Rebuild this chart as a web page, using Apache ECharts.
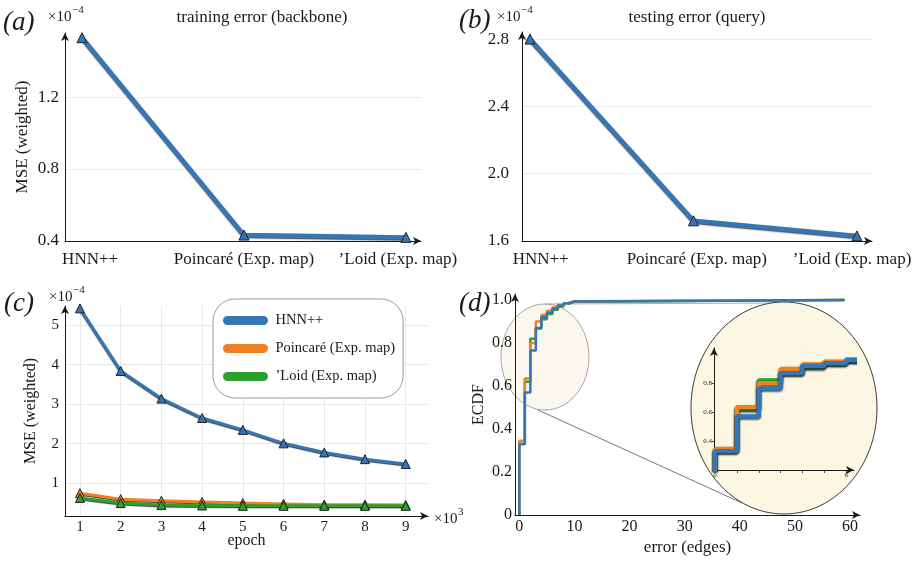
<!DOCTYPE html>
<html>
<head>
<meta charset="utf-8">
<script src="https://cdn.jsdelivr.net/npm/echarts@6.0.0/dist/echarts.min.js"></script>
<style>
  html, body { margin: 0; padding: 0; background: #fff; }
  #fig { width: 919px; height: 562px; }
</style>
</head>
<body>
<div id="fig"></div>
<script>
var FONT = 'Liberation Serif';
var INK = '#1a1a1a';
var BLUE = '#3676b5', ORANGE = '#f28020', GREEN = '#2ca02c';

// (a) / (b): final errors per method
var methods = ['HNN++', 'Poincaré (Exp. map)', '\u2019Loid (Exp. map)'];
var methodPos = [0, 1, 2];
var trainError = [1.53, 0.433, 0.42];
var testError = [2.80, 1.72, 1.63];
// where the category names sit (slightly pulled inwards, as in the figure)
var labelPosA = [0.05, 1.0, 1.95];
var labelPosB = [0.065, 1.02, 1.97];

// (c): error vs epoch (x10^3)
var epochs = [1, 2, 3, 4, 5, 6, 7, 8, 9];
var hnnEpoch = [5.42, 3.84, 3.14, 2.65, 2.35, 2.01, 1.78, 1.61, 1.49];
var poincareEpoch = [0.75, 0.60, 0.56, 0.53, 0.50, 0.48, 0.46, 0.46, 0.45];
var loidEpoch = [0.63, 0.50, 0.45, 0.44, 0.43, 0.43, 0.43, 0.43, 0.43];

// (d): ECDF of error in edges
var edgeError = [0, 0, 1, 2, 3, 4, 5, 6, 7, 8, 9, 10, 59];
var ecdfHnn = [0, 0.33, 0.57, 0.765, 0.87, 0.92, 0.94, 0.96, 0.975, 0.985, 0.993, 1.0, 1.0];
var ecdfPoincare = [0, 0.345, 0.635, 0.80, 0.90, 0.93, 0.95, 0.965, 0.978, 0.987, 0.994, 1.0, 1.0];
var ecdfLoid = [0, 0.33, 0.62, 0.82, 0.868, 0.91, 0.935, 0.955, 0.97, 0.983, 0.992, 1.0, 1.0];

// tick values
var yTicksA = [0.4, 0.8, 1.2];
var yTicksB = [1.6, 2.0, 2.4, 2.8];
var yTicksC = [1, 2, 3, 4, 5];
var xTicksD = [0, 10, 20, 30, 40, 50, 60];
var yTicksD = [0, 0.2, 0.4, 0.6, 0.8, 1.0];
var xTicksInset = [0, 1, 2, 3, 4, 5, 6];
var xLabelsInset = [0, 6];
var yTicksInset = [0.4, 0.6, 0.8];

function axisLine() {
  return { show: true, onZero: false, symbol: ['none', 'arrow'], symbolSize: [6, 8],
           lineStyle: { color: INK, width: 1 } };
}

function valueAxis(o) {
  return {
    type: 'value', gridIndex: o.grid, min: o.min, max: o.max,
    axisLine: axisLine(),
    axisTick: { show: !!o.tickLen, customValues: o.ticks, length: o.tickLen || 0,
                lineStyle: { color: INK, width: 0.8 } },
    axisLabel: { customValues: o.labels || o.ticks, formatter: o.fmt, margin: o.margin,
                 fontFamily: FONT, fontSize: o.fontSize, color: INK },
    splitLine: { show: !!o.split, lineStyle: { color: o.split || '#eee', width: 1 } },
    name: o.name || '', nameLocation: 'middle', nameGap: o.nameGap, nameMoveOverlap: false,
    nameTextStyle: { fontFamily: FONT, fontSize: o.nameSize, color: INK }
  };
}

function fixed1(v) { return v.toFixed(1); }
function ecdfFmt(v) { return v === 0 ? '0' : v.toFixed(1); }
function methodName(v) { return methods[Math.round(v)]; }

function plotLine(name, idx, xs, ys, color, o) {
  var ls = { color: color, width: o.width };
  if (o.blur) {
    ls.shadowColor = 'rgba(0,0,0,0.75)';
    ls.shadowBlur = o.blur;
    ls.shadowOffsetY = 1;
  }
  return {
    type: 'line', name: name, xAxisIndex: idx, yAxisIndex: idx,
    data: xs.map(function (x, i) { return [x, ys[i]]; }),
    step: o.step || false,
    symbol: o.symbol || 'none', symbolSize: o.symbolSize || 0, showSymbol: !!o.symbol,
    lineStyle: ls,
    itemStyle: { color: color, borderColor: '#222', borderWidth: 1 },
    z: o.z || 2, silent: true, animation: false
  };
}

function label(text, x, y, size, extra) {
  var st = { text: text, fontFamily: FONT, fontSize: size, fill: INK,
             align: 'left', verticalAlign: 'middle' };
  for (var k in extra) st[k] = extra[k];
  return { type: 'text', x: x, y: y, z: 10, silent: true, style: st };
}

function multiplier(x, y, exp) {
  return [label('×10', x, y, 15), label(exp, x + 24, y - 7, 11)];
}

var grids = [
  { left: 65, top: 33, width: 356, height: 208 },
  { left: 522, top: 32, width: 350, height: 209 },
  { left: 65, top: 306, width: 363, height: 210 },
  { left: 515, top: 294, width: 345, height: 221 },
  { left: 714, top: 348, width: 140, height: 122 }
].map(function (g) { g.containLabel = false; g.outerBoundsMode = 'none'; return g; });

var xAxes = [
  valueAxis({ grid: 0, min: -0.105, max: 2.093, ticks: methodPos, labels: labelPosA,
              fmt: methodName, margin: 10, fontSize: 17 }),
  valueAxis({ grid: 1, min: -0.049, max: 2.092, ticks: methodPos, labels: labelPosB,
              fmt: methodName, margin: 10, fontSize: 17 }),
  valueAxis({ grid: 2, min: 0.632, max: 9.548, ticks: epochs, margin: 4, fontSize: 15,
              split: '#e8e8e8', name: 'epoch', nameGap: 17, nameSize: 16 }),
  valueAxis({ grid: 3, min: -0.78, max: 61.8, ticks: xTicksD, margin: 4, fontSize: 16,
              name: 'error (edges)', nameGap: 24, nameSize: 17 }),
  valueAxis({ grid: 4, min: -0.05, max: 6.36, ticks: xTicksInset, labels: xLabelsInset,
              tickLen: 3, margin: 2, fontSize: 7 })
];

var yAxes = [
  valueAxis({ grid: 0, min: 0.4, max: 1.556, ticks: yTicksA, fmt: fixed1, margin: 6,
              fontSize: 17, split: '#ececec', name: 'MSE (weighted)', nameGap: 34, nameSize: 17 }),
  valueAxis({ grid: 1, min: 1.6, max: 2.842, ticks: yTicksB, fmt: fixed1, margin: 13,
              fontSize: 17, split: '#ececec' }),
  valueAxis({ grid: 2, min: 0.174, max: 5.48, ticks: yTicksC, margin: 6, fontSize: 15,
              split: '#e8e8e8', name: 'MSE (weighted)', nameGap: 26, nameSize: 16 }),
  valueAxis({ grid: 3, min: 0, max: 1.028, ticks: yTicksD, fmt: ecdfFmt, margin: 3,
              fontSize: 16, name: 'ECDF', nameGap: 28, nameSize: 16 }),
  valueAxis({ grid: 4, min: 0.2, max: 1.045, ticks: yTicksInset, fmt: fixed1, tickLen: 2,
              margin: 2, fontSize: 7 })
];

var series = [
  plotLine('train', 0, methodPos, trainError, BLUE, { width: 4.5, symbol: 'triangle', symbolSize: 10, blur: 1.5 }),
  plotLine('test', 1, methodPos, testError, BLUE, { width: 4.5, symbol: 'triangle', symbolSize: 10, blur: 1.5 }),

  plotLine('HNN++', 2, epochs, hnnEpoch, BLUE, { width: 3, symbol: 'triangle', symbolSize: 9, blur: 1, z: 4 }),
  plotLine('Poincaré (Exp. map)', 2, epochs, poincareEpoch, ORANGE, { width: 3, symbol: 'triangle', symbolSize: 9, blur: 1, z: 2 }),
  plotLine('\u2019Loid (Exp. map)', 2, epochs, loidEpoch, GREEN, { width: 3, symbol: 'triangle', symbolSize: 9, blur: 1, z: 3 }),

  plotLine('d-loid', 3, edgeError, ecdfLoid, GREEN, { width: 2.5, step: 'end', z: 2 }),
  plotLine('d-poincare', 3, edgeError, ecdfPoincare, ORANGE, { width: 2.5, step: 'end', z: 3 }),
  plotLine('d-hnn', 3, edgeError, ecdfHnn, BLUE, { width: 2.5, step: 'end', z: 4 }),

  plotLine('i-loid', 4, edgeError, ecdfLoid, GREEN, { width: 4.5, step: 'end', blur: 2, z: 5 }),
  plotLine('i-poincare', 4, edgeError, ecdfPoincare, ORANGE, { width: 4.5, step: 'end', blur: 2, z: 6 }),
  plotLine('i-hnn', 4, edgeError, ecdfHnn, BLUE, { width: 4.5, step: 'end', blur: 2, z: 7 })
];

var graphics = [
  // zoom marker + magnified inset background
  { type: 'ellipse', z: -1, silent: true, shape: { cx: 545, cy: 357, rx: 44, ry: 53 },
    style: { fill: 'rgba(238,233,205,0.35)', stroke: '#aaa69a', lineWidth: 1 } },
  { type: 'line', z: -1, silent: true, shape: { x1: 545, y1: 304, x2: 784, y2: 303 },
    style: { stroke: '#999', lineWidth: 0.8 } },
  { type: 'line', z: -1, silent: true, shape: { x1: 538, y1: 410, x2: 742, y2: 503 },
    style: { stroke: '#555', lineWidth: 0.8 } },
  { type: 'ellipse', z: -1, silent: true, shape: { cx: 784, cy: 408, rx: 93, ry: 106 },
    style: { fill: '#fbf7e3', stroke: '#222', lineWidth: 0.9 } },

  // panel letters
  label('(a)', 3, 23, 27, { fontStyle: 'italic' }),
  label('(b)', 459, 21, 27, { fontStyle: 'italic' }),
  label('(c)', 4, 304, 27, { fontStyle: 'italic' }),
  label('(d)', 459, 304, 27, { fontStyle: 'italic' }),

  // subplot titles
  label('training error (backbone)', 262, 18, 17, { align: 'center' }),
  label('testing error (query)', 697, 18, 17, { align: 'center' })
].concat(
  multiplier(48, 17, '−4'),
  multiplier(497, 17, '−4'),
  multiplier(49, 297, '−4'),
  multiplier(434, 519, '3')
);

var chart = echarts.init(document.getElementById('fig'), null, { renderer: 'canvas' });
chart.setOption({
  animation: false,
  backgroundColor: '#fff',
  grid: grids,
  xAxis: xAxes,
  yAxis: yAxes,
  legend: {
    data: ['HNN++', 'Poincaré (Exp. map)', '\u2019Loid (Exp. map)'],
    orient: 'vertical', left: 213, top: 299,
    padding: [14, 8, 14, 10], itemGap: 13,
    itemWidth: 50, itemHeight: 9,
    icon: 'path://M5,0 H45 A5,5 0 0 1 45,10 H5 A5,5 0 0 1 5,0 Z',
    itemStyle: { borderWidth: 0 },
    backgroundColor: '#fff', borderColor: '#9a9a9a', borderWidth: 1, borderRadius: 22,
    textStyle: { fontFamily: FONT, fontSize: 14.5, color: INK },
    selectedMode: false
  },
  graphic: graphics,
  series: series
});
</script>
</body>
</html>
